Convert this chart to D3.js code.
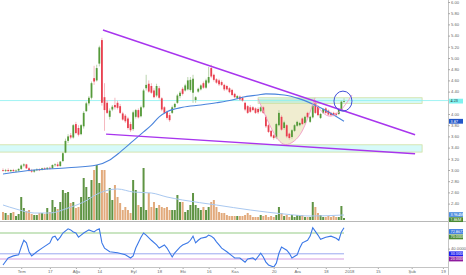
<!DOCTYPE html>
<html>
<head>
<meta charset="utf-8">
<script src="https://cdn.jsdelivr.net/npm/d3@7/dist/d3.min.js"></script>
<style>
body { margin: 0; background: #fff; }
svg { display: block; font-family: Roboto, "DejaVu Sans", sans-serif; }
</style>
</head>
<body>
<svg id="chart" width="466" height="275"></svg>
<script>
// candles, one row per session: open, high, low, close
var candles = [
 [3.00,3.03,2.97,2.99],[2.99,3.02,2.96,3.00],[3.00,3.03,2.97,2.98],[2.98,3.01,2.96,3.00],[3.00,3.02,2.97,2.98],
 [2.98,3.01,2.96,2.99],[2.99,3.03,2.97,3.02],[3.02,3.10,3.00,3.08],[3.08,3.12,3.05,3.10],[3.10,3.11,3.02,3.03],
 [3.03,3.05,2.97,2.99],[2.99,3.02,2.95,2.97],[2.97,3.01,2.95,3.00],[3.00,3.03,2.98,3.01],[3.01,3.03,2.98,3.00],
 [3.00,3.04,2.99,3.03],[3.03,3.05,3.00,3.02],[3.02,3.05,3.00,3.04],[3.04,3.06,3.01,3.03],[3.03,3.10,3.02,3.09],
 [3.09,3.12,3.06,3.10],[3.10,3.14,3.05,3.07],[3.07,3.16,3.06,3.15],[3.16,3.32,3.14,3.30],[3.31,3.56,3.30,3.52],
 [3.52,3.64,3.48,3.60],[3.62,3.66,3.55,3.58],[3.58,3.82,3.56,3.80],[3.82,3.86,3.64,3.66],[3.75,3.80,3.60,3.63],
 [3.64,3.82,3.62,3.80],[3.78,4.05,3.74,4.02],[4.05,4.22,4.04,4.19],[4.19,4.32,4.15,4.29],[4.29,4.58,4.26,4.55],
 [4.64,4.86,4.52,4.58],[4.60,4.88,4.58,4.82],[4.90,5.22,4.85,5.19],[5.32,5.36,4.15,4.20],[4.30,4.55,3.70,4.07],
 [4.20,4.24,4.00,4.02],[3.95,4.10,3.90,4.06],[4.08,4.16,4.05,4.13],[4.16,4.29,4.08,4.12],[4.20,4.24,4.08,4.11],
 [4.14,4.18,4.00,4.02],[4.01,4.04,3.88,3.90],[3.97,4.00,3.84,3.87],[3.92,3.95,3.72,3.75],[3.82,3.86,3.68,3.71],
 [3.73,4.06,3.70,4.03],[3.95,4.09,3.92,4.07],[4.07,4.10,3.92,3.94],[3.96,4.15,3.94,4.12],[4.12,4.45,4.10,4.42],
 [4.46,4.70,4.42,4.52],[4.54,4.60,4.38,4.40],[4.50,4.55,4.36,4.38],[4.42,4.46,4.28,4.30],[4.33,4.54,4.30,4.50],
 [4.46,4.50,4.26,4.29],[4.28,4.30,4.05,4.08],[4.12,4.14,4.00,4.02],[4.04,4.06,3.90,3.93],[3.98,4.02,3.86,3.89],
 [4.02,4.15,4.00,4.12],[4.12,4.20,4.10,4.18],[4.20,4.36,4.18,4.33],[4.32,4.41,4.28,4.38],[4.45,4.48,4.33,4.36],
 [4.42,4.54,4.40,4.51],[4.44,4.66,4.42,4.60],[4.43,4.66,4.40,4.61],[4.38,4.70,4.20,4.63],[4.25,4.32,4.20,4.30],
 [4.40,4.47,4.38,4.45],[4.44,4.53,4.42,4.51],[4.55,4.58,4.45,4.47],[4.47,4.63,4.45,4.60],[4.56,4.84,4.54,4.66],
 [4.82,4.88,4.64,4.67],[4.70,4.72,4.58,4.61],[4.62,4.64,4.54,4.56],[4.60,4.63,4.50,4.53],[4.57,4.60,4.50,4.52],
 [4.52,4.54,4.41,4.44],[4.50,4.52,4.42,4.44],[4.46,4.48,4.37,4.39],[4.43,4.45,4.32,4.34],[4.36,4.38,4.28,4.30],
 [4.28,4.34,4.26,4.32],[4.31,4.33,4.24,4.26],[4.29,4.31,4.22,4.24],[4.20,4.22,4.05,4.08],[4.14,4.16,4.00,4.02],
 [4.12,4.16,4.02,4.04],[4.12,4.14,4.05,4.07],[4.10,4.12,4.00,4.02],[4.09,4.12,4.00,4.03],[4.05,4.14,4.03,4.12],
 [4.12,4.14,4.00,4.02],[3.95,3.98,3.75,3.78],[3.80,3.82,3.66,3.68],[3.70,3.72,3.58,3.60],[3.62,3.64,3.54,3.57],
 [3.58,3.84,3.55,3.82],[3.80,4.07,3.78,4.02],[3.95,3.98,3.70,3.72],[3.75,3.88,3.72,3.85],[3.80,3.82,3.57,3.60],
 [3.65,3.67,3.54,3.57],[3.59,3.73,3.56,3.71],[3.70,3.82,3.68,3.80],[3.79,3.88,3.77,3.86],[3.80,3.86,3.78,3.84],
 [3.92,3.94,3.80,3.82],[3.84,3.97,3.82,3.95],[4.02,4.04,3.92,3.94],[3.86,3.97,3.84,3.95],[3.94,4.17,3.92,4.15],
 [4.20,4.25,4.00,4.02],[4.14,4.16,3.96,3.98],[3.93,4.02,3.91,4.00],[4.02,4.10,4.00,4.09],[4.10,4.12,4.00,4.02],
 [4.06,4.08,3.97,3.99],[4.02,4.04,3.96,3.98],[4.02,4.04,3.96,3.98],[4.01,4.03,3.96,3.98],[4.00,4.10,3.98,4.08],
 [4.07,4.24,4.05,4.22],[4.22,4.28,4.20,4.23]
];

// volume, millions
var volumes = [
 8,7,5,7,8,4,6,23,12,9,
 10,6,5,5,7,7,6,12,8,20,
 13,11,18,30,27,28,17,18,12,13,
 23,42,33,23,40,50,55,37,50,50,
 27,32,20,35,23,17,10,13,10,7,
 40,30,15,13,52,10,27,13,18,12,
 15,13,12,13,10,10,10,25,18,18,
 8,10,15,27,15,12,10,13,10,13,
 18,20,13,8,7,7,5,4,4,4,
 4,4,4,5,7,5,3,3,3,5,
 4,5,3,4,3,5,13,7,4,5,
 3,5,3,5,4,5,3,3,3,18,
 13,7,5,3,3,4,3,4,3,3,14,2
];

// moving average of price (read at some sessions)
var maIdx = [0,12,25,36,41,45,50,54,57,60,63,69,76,82,88,92,98,101,108,114,122,131];
var maVal = [2.93,3.00,3.04,3.09,3.18,3.32,3.52,3.68,3.80,3.95,4.04,4.12,4.16,4.20,4.25,4.30,4.34,4.36,4.34,4.27,4.11,3.87];

// moving average of volume
var volMaIdx = [0,5,12,18,25,31,37,44,50,57,63,69,82,95,108,118,131];
var volMaVal = [15,11,7,7,12,18,27,31,28,27,23,20,15,10,6,4,5];

// oscillator in the lower pane
var rsiIdx = [0,2,4,6,7,8,9,10,11,13,15,18,19,20,21,22,23,25,26,27,28,29,30,31,33,35,36,37,38,39,41,44,47,49,50,51,53,54,55,57,59,60,
 62,63,65,66,68,69,71,72,73,74,75,76,78,79,80,81,82,83,84,86,88,89,91,93,94,96,97,99,100,101,102,104,105,106,107,109,110,111,113,114,115,117,118,119,121,122,124,126,128,129,130,131];
var rsiVal = [8.5,22,26,28,43,56,51,34,26,34,41,51,62,64,56,62,70,78,76,72,70,62,66,70,76,72,76,78,51,41,34,32,28,22,26,41,62,70,66,56,47,41,
 47,41,24,32,43,47,51,56,64,51,56,60,62,66,64,60,53,47,41,34,26,22,22,14,20,22,18,31,24,14,8.5,4.6,12,31,43,37,31,22,28,41,51,56,64,80,66,58,62,64,60,56,72,80];
var rsiLevels = [70, 30, 20];

// price axis
var priceTicks = [6.0,5.8,5.6,5.4,5.2,5.0,4.8,4.6,4.4,4.0,3.8,3.6,3.4,3.2,3.0,2.8,2.6,2.4];
var priceBoxVals = [4.23, 3.87];
var volBoxVals = [3.964, 1.86];
var rsiBoxVals = [72.8672, 70];

// time axis
var tickIdx = [7,18,28,37,50,60,69,79,89,104,113,124,133,144,157,169];
var tickLabels = ["Tem","17","Ağu","14","Eyl","18","Eki","16","Kas","20","Ara","18","2018","15","Şub","19"];

// drawings, in (session, price)
var upperTrend = [[38.4,5.50],[158.3,3.63]];
var lowerTrend = [[39.6,3.64],[158.3,3.29]];
var topZone = [98, 161, 4.19, 4.29];
var lowZone = [-2, 161, 3.32, 3.45];
var priceLine = 4.24;
var cup = [[98,4.27],[100.7,3.98],[103.3,3.71],[106.4,3.48],[109.1,3.43],[112.9,3.54],[115.3,3.71],[117.9,4.02],[119.9,4.29]];
var handle = [[119.1,4.25],[121.8,4.07],[124.9,3.93],[128.7,4.00],[131.8,4.18],[134.1,4.34]];
var ring = [130.6, 4.23];

var W = 466, H = 275, axisX = 448, paneBottom = 221, rsiBottom = 267;
var svg = d3.select("#chart");

var x = d3.scaleLinear().domain([0, 131]).range([3, 344]);
var y = d3.scaleLinear().domain([2.4, 6.0]).range([203.6, 2]);
var yVol = d3.scaleLinear().domain([0, 60]).range([220, 160]);
var yRsi = d3.scaleLinear().domain([20, 70]).range([259, 233]);

svg.append("defs").append("clipPath").attr("id", "pane")
  .append("rect").attr("x", 0).attr("y", 0).attr("width", axisX).attr("height", paneBottom);

var pane = svg.append("g").attr("clip-path", "url(#pane)");

// volume bars
pane.selectAll(".vol").data(volumes).enter().append("rect")
  .attr("x", function(d, i){ return x(i) - 1; })
  .attr("y", function(d){ return yVol(d); })
  .attr("width", 2)
  .attr("height", function(d){ return yVol(0) - yVol(d); })
  .attr("fill", function(d, i){ return candles[i][3] >= candles[i][0] ? "#5f9444" : "#e2aa7c"; });

pane.append("path")
  .datum(volMaIdx.map(function(d, i){ return [d, volMaVal[i]]; }))
  .attr("fill", "none").attr("stroke", "#a9c8f0").attr("stroke-width", 1)
  .attr("d", d3.line().x(function(d){ return x(d[0]); }).y(function(d){ return yVol(d[1]); }).curve(d3.curveMonotoneX));

// zones and cup fill
function zone(z){
  pane.append("rect")
    .attr("x", x(z[0])).attr("y", y(z[3]))
    .attr("width", x(z[1]) - x(z[0])).attr("height", y(z[2]) - y(z[3]))
    .attr("fill", "rgba(120,240,235,0.3)").attr("stroke", "#cfe0a0").attr("stroke-width", 0.8);
}
var shape = d3.line().x(function(d){ return x(d[0]); }).y(function(d){ return y(d[1]); }).curve(d3.curveBasis);
pane.append("path").datum(cup).attr("d", shape).attr("fill", "rgba(222,214,150,0.45)").attr("stroke", "none");
zone(topZone);
zone(lowZone);

pane.append("line")
  .attr("x1", 0).attr("x2", axisX).attr("y1", y(priceLine)).attr("y2", y(priceLine))
  .attr("stroke", "#8af0f0").attr("stroke-width", 0.8);

// candles
var c = pane.selectAll(".candle").data(candles).enter().append("g");
c.append("line")
  .attr("x1", function(d, i){ return x(i); }).attr("x2", function(d, i){ return x(i); })
  .attr("y1", function(d){ return y(d[1]); }).attr("y2", function(d){ return y(d[2]); })
  .attr("stroke", function(d){ return d[3] >= d[0] ? "#a9c99a" : "#f2a6ae"; }).attr("stroke-width", 0.8);
c.append("rect")
  .attr("x", function(d, i){ return x(i) - 0.9; })
  .attr("y", function(d){ return y(Math.max(d[0], d[3])); })
  .attr("width", 1.8)
  .attr("height", function(d){ return Math.max(0.8, Math.abs(y(d[0]) - y(d[3]))); })
  .attr("fill", function(d){ return d[3] >= d[0] ? "#559a3a" : "#e8404f"; });

// moving average
pane.append("path")
  .datum(maIdx.map(function(d, i){ return [d, maVal[i]]; }))
  .attr("fill", "none").attr("stroke", "#4a84dc").attr("stroke-width", 1.1)
  .attr("d", d3.line().x(function(d){ return x(d[0]); }).y(function(d){ return y(d[1]); }).curve(d3.curveMonotoneX));

// cup and handle outlines
pane.append("path").datum(cup).attr("d", shape).attr("fill", "none").attr("stroke", "#f29ac8").attr("stroke-width", 0.9);
pane.append("path").datum(handle).attr("d", shape).attr("fill", "none").attr("stroke", "#f29ac8").attr("stroke-width", 0.9);

// trend lines
[upperTrend, lowerTrend].forEach(function(t){
  pane.append("line")
    .attr("x1", x(t[0][0])).attr("y1", y(t[0][1]))
    .attr("x2", x(t[1][0])).attr("y2", y(t[1][1]))
    .attr("stroke", "#a835ee").attr("stroke-width", 1.4);
});

pane.append("ellipse")
  .attr("cx", x(ring[0])).attr("cy", y(ring[1])).attr("rx", 9).attr("ry", 10)
  .attr("fill", "none").attr("stroke", "#3f4fd8").attr("stroke-width", 1);

// lower pane
var lvlColors = ["#b9dcae", "#9aa8f0", "#d49be0"];
rsiLevels.forEach(function(v, i){
  svg.append("line")
    .attr("x1", x(0) - 3).attr("x2", x(131))
    .attr("y1", yRsi(v)).attr("y2", yRsi(v))
    .attr("stroke", lvlColors[i]).attr("stroke-width", i === 0 ? 1.6 : 1);
});
svg.append("path")
  .datum(rsiIdx.map(function(d, i){ return [d, rsiVal[i]]; }))
  .attr("fill", "none").attr("stroke", "#3b78e7").attr("stroke-width", 1.1)
  .attr("d", d3.line().x(function(d){ return x(d[0]); }).y(function(d){ return yRsi(d[1]); }));

// frame
svg.append("line").attr("x1", 0).attr("x2", W).attr("y1", paneBottom + 0.5).attr("y2", paneBottom + 0.5).attr("stroke", "#b8b8b8");
svg.append("line").attr("x1", axisX + 0.5).attr("x2", axisX + 0.5).attr("y1", 0).attr("y2", H).attr("stroke", "#c4c4c4");

// axes
var fs = "4.2px";
var pa = svg.append("g").attr("transform", "translate(" + axisX + ",0)")
  .call(d3.axisRight(y).tickValues(priceTicks).tickSize(2).tickPadding(1).tickFormat(d3.format(".2f")));
var ra = svg.append("g").attr("transform", "translate(" + axisX + ",0)")
  .call(d3.axisRight(yRsi).tickValues([40]).tickSize(2).tickPadding(1).tickFormat(d3.format(".4f")));
var xa = svg.append("g").attr("transform", "translate(0," + rsiBottom + ")")
  .call(d3.axisBottom(x).tickValues(tickIdx).tickSize(2).tickPadding(1)
    .tickFormat(function(d, i){ return tickLabels[i]; }));
[pa, ra, xa].forEach(function(a){
  a.select(".domain").remove();
  a.selectAll("line").attr("stroke", "#aaa");
  a.selectAll("text").attr("fill", "#666").style("font-size", fs);
});
svg.append("line").attr("x1", 0).attr("x2", axisX).attr("y1", rsiBottom + 0.5).attr("y2", rsiBottom + 0.5).attr("stroke", "#c4c4c4");

// value boxes on the right
function box(yy, text, fill, color){
  svg.append("rect").attr("x", axisX + 1).attr("y", yy - 2.4).attr("width", 14).attr("height", 4.8).attr("fill", fill);
  svg.append("text").attr("x", axisX + 2.5).attr("y", yy).attr("dy", "0.35em")
    .attr("fill", color).style("font-size", "3.8px").text(text);
}
box(y(priceBoxVals[0]), d3.format(".2f")(priceBoxVals[0]), "#7ff3f0", "#333");
box(y(priceBoxVals[1]), d3.format(".2f")(priceBoxVals[1]), "#2256c8", "#fff");
box(yVol(volBoxVals[0]) - 1.5, d3.format(".3f")(volBoxVals[0]) + "M", "#4f8ee0", "#fff");
box(yVol(volBoxVals[0]) + 3.6, d3.format(".2f")(volBoxVals[1]) + "M", "#4b8a33", "#fff");
box(yRsi(rsiBoxVals[0]), d3.format(".4f")(rsiBoxVals[0]), "#3a78e0", "#fff");
box(yRsi(rsiBoxVals[0]) + 5.4, d3.format(".4f")(rsiBoxVals[1]), "#4b8a33", "#fff");
box(yRsi(rsiLevels[1]), d3.format(".4f")(rsiLevels[1]), "#1c1cf0", "#fff");
box(yRsi(rsiLevels[2]), d3.format(".4f")(rsiLevels[2]), "#8e1a9e", "#fff");
</script>
</body>
</html>
